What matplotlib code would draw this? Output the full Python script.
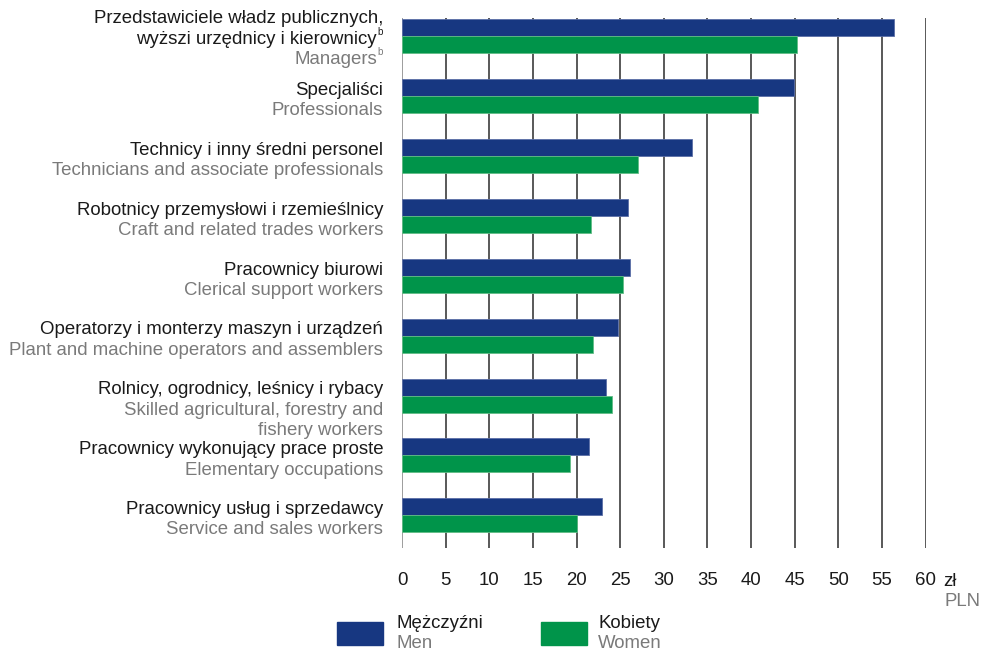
import numpy as np
import matplotlib
matplotlib.use("Agg")
import matplotlib.pyplot as plt
from matplotlib.patches import Rectangle
import matplotlib.transforms as mtransforms

plt.rcParams["font.family"] = ["Liberation Sans", "DejaVu Sans"]

#data
labels_pl = [
    ["Przedstawiciele władz publicznych,", "wyższi urzędnicy i kierownicy"],
    ["Specjaliści"],
    ["Technicy i inny średni personel"],
    ["Robotnicy przemysłowi i rzemieślnicy"],
    ["Pracownicy biurowi"],
    ["Operatorzy i monterzy maszyn i urządzeń"],
    ["Rolnicy, ogrodnicy, leśnicy i rybacy"],
    ["Pracownicy wykonujący prace proste"],
    ["Pracownicy usług i sprzedawcy"],
]
labels_en = [
    ["Managers"],
    ["Professionals"],
    ["Technicians and associate professionals"],
    ["Craft and related trades workers"],
    ["Clerical support workers"],
    ["Plant and machine operators and assemblers"],
    ["Skilled agricultural, forestry and", "fishery workers"],
    ["Elementary occupations"],
    ["Service and sales workers"],
]
# lines carrying the footnote mark "b"
footnoted = ["wyższi urzędnicy i kierownicy", "Managers"]
men = [56.4, 44.9, 33.2, 25.9, 26.1, 24.8, 23.4, 21.4, 22.9]
women = [45.3, 40.8, 27.0, 21.6, 25.3, 21.9, 24.1, 19.2, 20.1]
ticks = list(range(0, 65, 5))

c_men = "#173781"
c_women = "#00944a"
c_dark = "#1a1a1a"
c_gray = "#7a7a7a"
fs = 13.4

fig = plt.figure(figsize=(9.85, 6.5), dpi=100)
ax = fig.add_axes([402 / 985, 102 / 650, 523.7 / 985, 530 / 650])

y = np.arange(len(men))
h = 0.284
ax.barh(y - h / 2, men, height=h, color=c_men, edgecolor="#5b6ea6", linewidth=0.6, zorder=3)
ax.barh(y + h / 2, women, height=h, color=c_women, edgecolor="#62bd86", linewidth=0.6, zorder=3)

ax.set_xlim(0, 60)
ax.set_ylim(8.546, -0.308)
for s in ax.spines.values():
    s.set_visible(False)

#vertical grid lines
for t in ticks:
    ax.axvline(t, color="#8c8c8c" if t == 0 else "#3c3c3c", lw=1.2, zorder=1)

ax.set_yticks([])
ax.set_xticks(ticks)
ax.set_xticklabels([str(t) for t in ticks], fontsize=fs, color=c_dark)
ax.tick_params(axis="x", length=0, pad=17)

#category labels
trans = mtransforms.blended_transform_factory(ax.transAxes, ax.transData)
step = 0.34
for i in range(len(men)):
    lines = [(t, c_dark) for t in labels_pl[i]] + [(t, c_gray) for t in labels_en[i]]
    start = -0.33 if len(labels_pl[i]) > 1 else -0.13
    for k, (txt, col) in enumerate(lines):
        yy = i + start + k * step
        if txt in footnoted:
            tr = trans + mtransforms.ScaledTranslation(-6 / 100, 0, fig.dpi_scale_trans)
            ax.text(-0.036, yy, txt, transform=tr, ha="right", va="center_baseline",
                    fontsize=fs, color=col, clip_on=False)
            tr2 = trans + mtransforms.ScaledTranslation(-6 / 100, 6 / 100, fig.dpi_scale_trans)
            ax.text(-0.036, yy, "b", transform=tr2, ha="left", va="center_baseline",
                    fontsize=7, color=col, clip_on=False)
        else:
            ax.text(-0.036, yy, txt, transform=trans, ha="right", va="center_baseline",
                    fontsize=fs, color=col, clip_on=False)

#unit
fig.text(943 / 985, 1 - 580 / 650, "zł", fontsize=fs, color=c_dark, va="center_baseline")
fig.text(980 / 985, 1 - 600 / 650, "PLN", fontsize=fs, color=c_gray, va="center_baseline", ha="right")

#legend
fig.add_artist(Rectangle((337 / 985, 1 - 645 / 650), 46 / 985, 23 / 650,
                         transform=fig.transFigure, color=c_men))
fig.add_artist(Rectangle((541 / 985, 1 - 645 / 650), 46 / 985, 23 / 650,
                         transform=fig.transFigure, color=c_women))
fig.text(397 / 985, 1 - 622 / 650, "Mężczyźni", fontsize=fs, color=c_dark, va="center_baseline")
fig.text(397 / 985, 1 - 641 / 650, "Men", fontsize=fs, color=c_gray, va="center_baseline")
fig.text(598 / 985, 1 - 622 / 650, "Kobiety", fontsize=fs, color=c_dark, va="center_baseline")
fig.text(598 / 985, 1 - 641 / 650, "Women", fontsize=fs, color=c_gray, va="center_baseline")

fig.savefig("out.png", dpi=100)
